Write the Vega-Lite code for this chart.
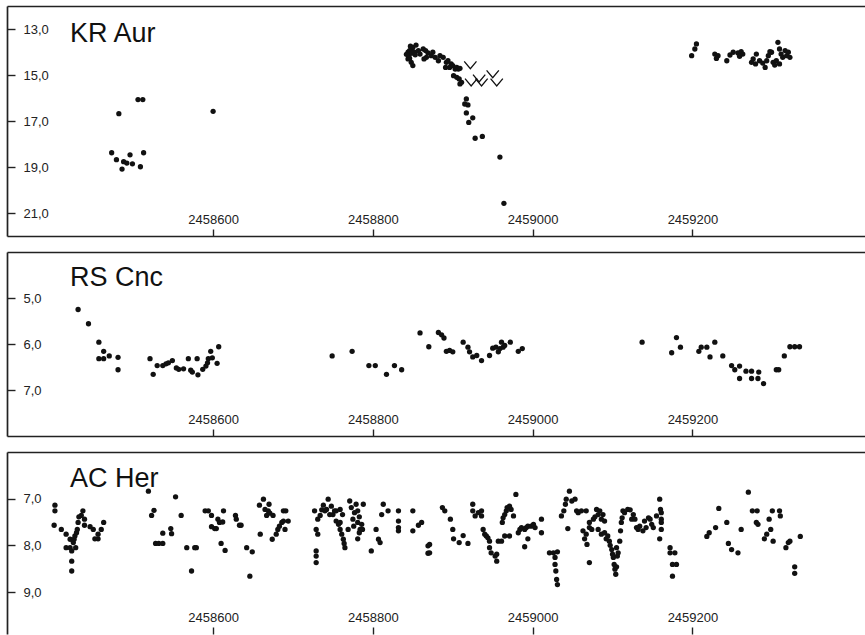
{
  "$schema": "https://vega.github.io/schema/vega-lite/v6.json",
  "padding": {"left": 6, "top": 6, "right": 0, "bottom": 0},
  "spacing": 16,
  "bounds": "flush",
  "config": {
    "view": {"stroke": null},
    "font": "Liberation Sans",
    "axis": {"domainColor": "#222", "domainWidth": 1.7, "tickColor": "#222", "tickWidth": 1.4, "labelFont": "Liberation Sans", "labelFontSize": 13, "labelColor": "#222", "title": null},
    "title": {"font": "Liberation Sans", "fontSize": 27, "fontWeight": "normal", "color": "#111", "anchor": "start", "frame": "group", "baseline": "alphabetic", "dx": 63, "offset": -40}
  },
  "datasets": {
    "kr": [
      {"jd":2458473,"mag":18.38},{"jd":2458479,"mag":18.68},{"jd":2458482,"mag":16.68},{"jd":2458486,"mag":19.09},{"jd":2458488,"mag":18.77},{"jd":2458492,"mag":18.83},{"jd":2458496,"mag":18.47},{"jd":2458499,"mag":18.86},{"jd":2458506,"mag":16.07},{"jd":2458512,"mag":16.07},{"jd":2458509,"mag":18.99},{"jd":2458513,"mag":18.38},{"jd":2458600,"mag":16.58},
      {"jd":2458844,"mag":14.01},{"jd":2458846,"mag":13.94},{"jd":2458848,"mag":13.87},{"jd":2458850,"mag":13.80},{"jd":2458854,"mag":13.70},{"jd":2458852,"mag":14.01},{"jd":2458846,"mag":14.28},{"jd":2458844,"mag":14.30},{"jd":2458848,"mag":14.45},{"jd":2458850,"mag":14.59},{"jd":2458842,"mag":14.10},{"jd":2458845,"mag":14.15},{"jd":2458849,"mag":14.05},{"jd":2458853,"mag":14.12},{"jd":2458847,"mag":13.75},
      {"jd":2458857,"mag":13.94},{"jd":2458859,"mag":14.09},{"jd":2458863,"mag":13.87},{"jd":2458866,"mag":13.94},{"jd":2458867,"mag":14.23},{"jd":2458864,"mag":14.30},{"jd":2458869,"mag":14.04},{"jd":2458873,"mag":14.16},{"jd":2458875,"mag":14.01},{"jd":2458878,"mag":14.23},{"jd":2458882,"mag":14.38},{"jd":2458884,"mag":14.16},{"jd":2458888,"mag":14.23},{"jd":2458892,"mag":14.45},{"jd":2458894,"mag":14.38},{"jd":2458898,"mag":14.52},{"jd":2458891,"mag":14.67},{"jd":2458896,"mag":14.67},{"jd":2458900,"mag":14.59},{"jd":2458903,"mag":14.74},{"jd":2458905,"mag":14.67},{"jd":2458907,"mag":14.74},{"jd":2458909,"mag":14.71},{"jd":2458901,"mag":15.03},{"jd":2458905,"mag":15.10},{"jd":2458908,"mag":15.17},{"jd":2458911,"mag":15.32},{"jd":2458909,"mag":15.39},
      {"jd":2458917,"mag":16.04},{"jd":2458915,"mag":16.26},{"jd":2458919,"mag":16.30},{"jd":2458917,"mag":16.65},{"jd":2458925,"mag":16.86},{"jd":2458920,"mag":17.06},{"jd":2458928,"mag":17.75},{"jd":2458937,"mag":17.67},{"jd":2458959,"mag":18.57},{"jd":2458964,"mag":20.58},
      {"jd":2459205,"mag":13.65},{"jd":2459203,"mag":13.87},{"jd":2459199,"mag":14.16},{"jd":2459228,"mag":14.09},{"jd":2459232,"mag":14.16},{"jd":2459230,"mag":14.28},{"jd":2459243,"mag":14.38},{"jd":2459247,"mag":14.13},{"jd":2459251,"mag":14.01},{"jd":2459257,"mag":14.04},{"jd":2459261,"mag":13.99},{"jd":2459263,"mag":14.09},{"jd":2459259,"mag":14.19},{"jd":2459274,"mag":14.45},{"jd":2459276,"mag":14.30},{"jd":2459280,"mag":14.09},{"jd":2459279,"mag":14.52},{"jd":2459284,"mag":14.38},{"jd":2459288,"mag":14.48},{"jd":2459291,"mag":14.67},{"jd":2459293,"mag":14.38},{"jd":2459295,"mag":14.16},{"jd":2459299,"mag":14.01},{"jd":2459301,"mag":14.45},{"jd":2459305,"mag":14.38},{"jd":2459307,"mag":13.58},{"jd":2459309,"mag":13.87},{"jd":2459311,"mag":14.09},{"jd":2459313,"mag":14.23},{"jd":2459316,"mag":13.94},{"jd":2459318,"mag":14.16},{"jd":2459320,"mag":14.01},{"jd":2459322,"mag":14.23},{"jd":2459309,"mag":14.52},{"jd":2459303,"mag":14.57},{"jd":2459297,"mag":13.99}
    ],
    "krlim": [
      {"jd":2458922,"mag":14.57},{"jd":2458933,"mag":15.14},{"jd":2458923,"mag":15.32},{"jd":2458936,"mag":15.32},{"jd":2458950,"mag":14.96},{"jd":2458955,"mag":15.32}
    ],
    "rs": [
      {"jd":2458431,"mag":5.25},{"jd":2458444,"mag":5.56},{"jd":2458457,"mag":5.96},{"jd":2458457,"mag":6.32},{"jd":2458463,"mag":6.32},{"jd":2458463,"mag":6.16},{"jd":2458470,"mag":6.26},{"jd":2458481,"mag":6.29},{"jd":2458481,"mag":6.56},
      {"jd":2458521,"mag":6.32},{"jd":2458525,"mag":6.66},{"jd":2458530,"mag":6.47},{"jd":2458537,"mag":6.47},{"jd":2458541,"mag":6.43},{"jd":2458544,"mag":6.41},{"jd":2458549,"mag":6.36},{"jd":2458554,"mag":6.52},{"jd":2458557,"mag":6.55},{"jd":2458563,"mag":6.54},{"jd":2458569,"mag":6.32},{"jd":2458572,"mag":6.57},{"jd":2458574,"mag":6.61},{"jd":2458580,"mag":6.32},{"jd":2458581,"mag":6.67},{"jd":2458587,"mag":6.55},{"jd":2458591,"mag":6.48},{"jd":2458593,"mag":6.41},{"jd":2458594,"mag":6.32},{"jd":2458597,"mag":6.16},{"jd":2458599,"mag":6.30},{"jd":2458605,"mag":6.42},{"jd":2458607,"mag":6.06},
      {"jd":2458749,"mag":6.26},{"jd":2458774,"mag":6.16},{"jd":2458795,"mag":6.47},{"jd":2458803,"mag":6.47},{"jd":2458817,"mag":6.66},{"jd":2458827,"mag":6.47},{"jd":2458836,"mag":6.56},{"jd":2458859,"mag":5.76},{"jd":2458870,"mag":6.06},
      {"jd":2458882,"mag":5.75},{"jd":2458886,"mag":5.80},{"jd":2458889,"mag":5.87},{"jd":2458892,"mag":6.16},{"jd":2458896,"mag":6.14},{"jd":2458900,"mag":6.17},{"jd":2458913,"mag":5.96},{"jd":2458919,"mag":6.07},{"jd":2458921,"mag":6.17},{"jd":2458925,"mag":6.28},{"jd":2458930,"mag":6.25},{"jd":2458936,"mag":6.36},{"jd":2458946,"mag":6.25},{"jd":2458950,"mag":6.09},{"jd":2458954,"mag":6.07},{"jd":2458957,"mag":6.17},{"jd":2458959,"mag":6.10},{"jd":2458961,"mag":5.96},{"jd":2458963,"mag":6.07},{"jd":2458965,"mag":6.03},{"jd":2458972,"mag":5.96},{"jd":2458982,"mag":6.16},{"jd":2458987,"mag":6.10},
      {"jd":2459137,"mag":5.96},{"jd":2459174,"mag":6.19},{"jd":2459180,"mag":5.86},{"jd":2459185,"mag":6.07},{"jd":2459208,"mag":6.16},{"jd":2459211,"mag":6.07},{"jd":2459218,"mag":6.07},{"jd":2459222,"mag":6.28},{"jd":2459228,"mag":5.96},{"jd":2459238,"mag":6.26},{"jd":2459249,"mag":6.47},{"jd":2459253,"mag":6.56},{"jd":2459259,"mag":6.48},{"jd":2459259,"mag":6.75},{"jd":2459267,"mag":6.59},{"jd":2459274,"mag":6.59},{"jd":2459274,"mag":6.75},{"jd":2459282,"mag":6.75},{"jd":2459283,"mag":6.61},{"jd":2459289,"mag":6.86},{"jd":2459305,"mag":6.56},{"jd":2459308,"mag":6.56},{"jd":2459315,"mag":6.26},{"jd":2459322,"mag":6.06},{"jd":2459328,"mag":6.06},{"jd":2459334,"mag":6.06}
    ],
    "ac": [
      {"jd":2458402,"mag":7.14},{"jd":2458402,"mag":7.26},{"jd":2458401,"mag":7.57},{"jd":2458410,"mag":7.66},{"jd":2458416,"mag":7.76},{"jd":2458416,"mag":8.05},{"jd":2458421,"mag":7.87},{"jd":2458421,"mag":8.05},{"jd":2458423,"mag":8.12},{"jd":2458423,"mag":8.55},{"jd":2458423,"mag":8.34},{"jd":2458425,"mag":7.94},{"jd":2458426,"mag":7.87},{"jd":2458427,"mag":7.80},{"jd":2458428,"mag":8.05},{"jd":2458429,"mag":7.73},{"jd":2458430,"mag":7.66},{"jd":2458431,"mag":7.51},{"jd":2458432,"mag":7.39},{"jd":2458435,"mag":7.36},{"jd":2458437,"mag":7.26},{"jd":2458439,"mag":7.44},{"jd":2458439,"mag":7.57},{"jd":2458446,"mag":7.60},{"jd":2458450,"mag":7.66},{"jd":2458452,"mag":7.86},{"jd":2458456,"mag":7.86},{"jd":2458456,"mag":7.76},{"jd":2458460,"mag":7.66},{"jd":2458463,"mag":7.51},
      {"jd":2458519,"mag":6.84},{"jd":2458523,"mag":7.36},{"jd":2458526,"mag":7.25},{"jd":2458528,"mag":7.96},{"jd":2458532,"mag":7.96},{"jd":2458537,"mag":7.96},{"jd":2458537,"mag":7.74},{"jd":2458547,"mag":7.64},{"jd":2458548,"mag":7.75},{"jd":2458553,"mag":6.96},{"jd":2458560,"mag":7.36},{"jd":2458567,"mag":8.05},{"jd":2458573,"mag":8.55},{"jd":2458577,"mag":8.05},{"jd":2458579,"mag":8.05},
      {"jd":2458590,"mag":7.26},{"jd":2458594,"mag":7.26},{"jd":2458598,"mag":7.36},{"jd":2458598,"mag":7.60},{"jd":2458602,"mag":7.64},{"jd":2458604,"mag":7.64},{"jd":2458606,"mag":7.44},{"jd":2458608,"mag":7.51},{"jd":2458612,"mag":7.50},{"jd":2458613,"mag":7.26},{"jd":2458610,"mag":7.96},{"jd":2458615,"mag":8.11},{"jd":2458628,"mag":7.36},{"jd":2458629,"mag":7.44},{"jd":2458633,"mag":7.57},{"jd":2458635,"mag":7.57},{"jd":2458642,"mag":8.05},{"jd":2458646,"mag":8.66},{"jd":2458649,"mag":8.14},{"jd":2458659,"mag":7.76},{"jd":2458658,"mag":7.14},{"jd":2458663,"mag":7.01},{"jd":2458665,"mag":7.23},{"jd":2458667,"mag":7.36},{"jd":2458669,"mag":7.26},{"jd":2458671,"mag":7.31},{"jd":2458675,"mag":7.36},{"jd":2458670,"mag":7.12},{"jd":2458674,"mag":7.87},{"jd":2458679,"mag":7.76},{"jd":2458681,"mag":7.66},{"jd":2458683,"mag":7.59},{"jd":2458686,"mag":7.51},{"jd":2458688,"mag":7.48},{"jd":2458688,"mag":7.26},{"jd":2458690,"mag":7.66},{"jd":2458691,"mag":7.26},{"jd":2458694,"mag":7.48},
      {"jd":2458727,"mag":7.26},{"jd":2458729,"mag":7.66},{"jd":2458731,"mag":7.76},{"jd":2458729,"mag":8.12},{"jd":2458729,"mag":8.23},{"jd":2458729,"mag":8.37},{"jd":2458731,"mag":7.44},{"jd":2458734,"mag":7.36},{"jd":2458736,"mag":7.24},{"jd":2458738,"mag":7.14},{"jd":2458740,"mag":7.26},{"jd":2458742,"mag":7.23},{"jd":2458744,"mag":7.01},{"jd":2458746,"mag":7.34},{"jd":2458748,"mag":7.16},{"jd":2458750,"mag":7.34},{"jd":2458752,"mag":7.26},{"jd":2458754,"mag":7.26},{"jd":2458754,"mag":7.48},{"jd":2458757,"mag":7.55},{"jd":2458759,"mag":7.51},{"jd":2458759,"mag":7.66},{"jd":2458761,"mag":7.76},{"jd":2458763,"mag":7.87},{"jd":2458764,"mag":7.96},{"jd":2458765,"mag":8.05},{"jd":2458759,"mag":7.23},{"jd":2458762,"mag":7.34},{"jd":2458769,"mag":7.66},{"jd":2458771,"mag":7.05},{"jd":2458773,"mag":7.19},{"jd":2458775,"mag":7.44},{"jd":2458776,"mag":7.59},{"jd":2458777,"mag":7.30},{"jd":2458779,"mag":7.12},{"jd":2458781,"mag":7.26},{"jd":2458781,"mag":7.51},{"jd":2458783,"mag":7.39},{"jd":2458784,"mag":7.66},{"jd":2458786,"mag":7.55},{"jd":2458788,"mag":7.12},{"jd":2458781,"mag":7.86},{"jd":2458783,"mag":7.73},{"jd":2458787,"mag":7.66},{"jd":2458798,"mag":8.12},{"jd":2458804,"mag":7.66},{"jd":2458807,"mag":7.87},{"jd":2458809,"mag":7.94},{"jd":2458811,"mag":7.34},{"jd":2458813,"mag":7.12},{"jd":2458819,"mag":7.26},{"jd":2458832,"mag":7.26},{"jd":2458832,"mag":7.48},{"jd":2458832,"mag":7.62},{"jd":2458832,"mag":7.69},{"jd":2458850,"mag":7.26},{"jd":2458850,"mag":7.69},{"jd":2458857,"mag":7.57},{"jd":2458861,"mag":7.51},{"jd":2458869,"mag":8.01},{"jd":2458869,"mag":8.17},
      {"jd":2458871,"mag":7.98},{"jd":2458871,"mag":8.16},{"jd":2458887,"mag":7.19},{"jd":2458890,"mag":7.26},{"jd":2458897,"mag":7.44},{"jd":2458900,"mag":7.66},{"jd":2458901,"mag":7.86},{"jd":2458908,"mag":7.94},{"jd":2458913,"mag":7.79},{"jd":2458919,"mag":7.96},{"jd":2458925,"mag":7.12},{"jd":2458925,"mag":7.26},{"jd":2458928,"mag":7.37},{"jd":2458932,"mag":7.30},{"jd":2458936,"mag":7.26},{"jd":2458936,"mag":7.37},{"jd":2458938,"mag":7.66},{"jd":2458940,"mag":7.76},{"jd":2458942,"mag":7.80},{"jd":2458944,"mag":7.84},{"jd":2458946,"mag":7.91},{"jd":2458946,"mag":8.05},{"jd":2458948,"mag":8.16},{"jd":2458953,"mag":8.23},{"jd":2458955,"mag":8.34},{"jd":2458955,"mag":8.19},{"jd":2458957,"mag":7.91},{"jd":2458961,"mag":7.91},{"jd":2458962,"mag":7.51},{"jd":2458963,"mag":7.41},{"jd":2458965,"mag":7.34},{"jd":2458967,"mag":7.26},{"jd":2458968,"mag":7.19},{"jd":2458971,"mag":7.16},{"jd":2458973,"mag":7.23},{"jd":2458976,"mag":7.37},{"jd":2458979,"mag":6.91},{"jd":2458965,"mag":7.80},{"jd":2458971,"mag":7.80},{"jd":2458982,"mag":7.73},{"jd":2458984,"mag":7.66},{"jd":2458986,"mag":7.62},{"jd":2458990,"mag":7.66},{"jd":2458992,"mag":7.62},{"jd":2458994,"mag":7.59},{"jd":2458998,"mag":7.59},{"jd":2459001,"mag":7.55},{"jd":2459003,"mag":7.62},{"jd":2458990,"mag":8.03},{"jd":2458994,"mag":7.86},{"jd":2459011,"mag":7.44},{"jd":2459011,"mag":7.73},
      {"jd":2459021,"mag":8.16},{"jd":2459026,"mag":8.16},{"jd":2459028,"mag":8.26},{"jd":2459028,"mag":8.41},{"jd":2459029,"mag":8.55},{"jd":2459030,"mag":8.73},{"jd":2459031,"mag":8.84},{"jd":2459031,"mag":8.14},{"jd":2459036,"mag":7.37},{"jd":2459039,"mag":7.26},{"jd":2459041,"mag":7.12},{"jd":2459042,"mag":7.01},{"jd":2459046,"mag":6.84},{"jd":2459049,"mag":7.05},{"jd":2459053,"mag":7.01},{"jd":2459055,"mag":7.26},{"jd":2459057,"mag":7.30},{"jd":2459061,"mag":7.26},{"jd":2459067,"mag":7.26},{"jd":2459044,"mag":7.64},{"jd":2459063,"mag":7.69},{"jd":2459065,"mag":7.86},{"jd":2459067,"mag":7.76},{"jd":2459068,"mag":7.98},{"jd":2459071,"mag":7.62},{"jd":2459071,"mag":7.51},{"jd":2459074,"mag":7.66},{"jd":2459076,"mag":7.44},{"jd":2459078,"mag":7.39},{"jd":2459080,"mag":7.23},{"jd":2459082,"mag":7.34},{"jd":2459084,"mag":7.26},{"jd":2459086,"mag":7.44},{"jd":2459088,"mag":7.34},{"jd":2459090,"mag":7.48},{"jd":2459071,"mag":8.37},{"jd":2459082,"mag":7.66},{"jd":2459086,"mag":7.76},{"jd":2459090,"mag":7.73},{"jd":2459092,"mag":7.86},{"jd":2459094,"mag":7.80},{"jd":2459096,"mag":7.91},{"jd":2459097,"mag":8.00},{"jd":2459099,"mag":8.09},{"jd":2459100,"mag":8.19},{"jd":2459101,"mag":8.26},{"jd":2459102,"mag":8.41},{"jd":2459103,"mag":8.51},{"jd":2459104,"mag":8.62},{"jd":2459105,"mag":8.46},{"jd":2459106,"mag":8.23},{"jd":2459107,"mag":8.16},{"jd":2459105,"mag":8.05},
      {"jd":2459109,"mag":7.91},{"jd":2459110,"mag":7.69},{"jd":2459111,"mag":7.51},{"jd":2459112,"mag":7.41},{"jd":2459113,"mag":7.26},{"jd":2459115,"mag":7.30},{"jd":2459119,"mag":7.23},{"jd":2459122,"mag":7.24},{"jd":2459124,"mag":7.44},{"jd":2459126,"mag":7.34},{"jd":2459128,"mag":7.44},{"jd":2459130,"mag":7.62},{"jd":2459132,"mag":7.66},{"jd":2459134,"mag":7.59},{"jd":2459138,"mag":7.69},{"jd":2459140,"mag":7.48},{"jd":2459142,"mag":7.62},{"jd":2459145,"mag":7.41},{"jd":2459147,"mag":7.44},{"jd":2459149,"mag":7.55},{"jd":2459151,"mag":7.62},{"jd":2459155,"mag":7.37},{"jd":2459159,"mag":7.01},{"jd":2459160,"mag":7.23},{"jd":2459161,"mag":7.30},{"jd":2459161,"mag":7.44},{"jd":2459161,"mag":7.51},{"jd":2459161,"mag":7.66},{"jd":2459159,"mag":7.86},
      {"jd":2459172,"mag":8.05},{"jd":2459172,"mag":8.16},{"jd":2459178,"mag":8.16},{"jd":2459175,"mag":8.41},{"jd":2459180,"mag":8.41},{"jd":2459175,"mag":8.66},
      {"jd":2459218,"mag":7.81},{"jd":2459221,"mag":7.73},{"jd":2459229,"mag":7.62},{"jd":2459233,"mag":7.21},{"jd":2459243,"mag":7.51},{"jd":2459245,"mag":7.96},{"jd":2459249,"mag":8.09},{"jd":2459257,"mag":8.16},{"jd":2459261,"mag":7.66},{"jd":2459270,"mag":6.86},{"jd":2459275,"mag":7.26},{"jd":2459281,"mag":7.26},{"jd":2459280,"mag":7.51},{"jd":2459282,"mag":7.55},{"jd":2459290,"mag":7.86},{"jd":2459293,"mag":7.76},{"jd":2459296,"mag":7.44},{"jd":2459298,"mag":7.66},{"jd":2459300,"mag":7.26},{"jd":2459301,"mag":7.91},{"jd":2459309,"mag":7.26},{"jd":2459310,"mag":7.37},{"jd":2459317,"mag":8.05},{"jd":2459320,"mag":7.94},{"jd":2459322,"mag":7.91},{"jd":2459328,"mag":8.46},{"jd":2459328,"mag":8.60},{"jd":2459335,"mag":7.81}
    ]
  },
  "vconcat": [
    {
      "width": 858, "height": 230,
      "title": {"text": "KR Aur", "offset": -42},
      "layer": [
        {
          "data": {"name": "kr"},
          "mark": {"type": "circle", "size": 28, "color": "#111", "opacity": 1},
          "encoding": {
            "x": {"field": "jd", "type": "quantitative", "scale": {"domain": [2458342, 2459416], "nice": false, "zero": false},
              "axis": {"values": [2458600, 2458800, 2459000, 2459200], "format": "d", "tickSize": -7, "labelPadding": -10, "labelBaseline": "middle", "grid": false, "labelFlush": false, "labelOverlap": false}},
            "y": {"field": "mag", "type": "quantitative", "scale": {"domain": [12, 22], "reverse": true, "nice": false, "zero": false},
              "axis": {"values": [12, 13, 15, 17, 19, 21], "tickSize": -8, "labelAlign": "left", "labelPadding": -8, "labelBaseline": "middle", "grid": true, "gridColor": "#222", "gridWidth": 1.7,
                "gridOpacity": {"condition": {"test": "datum.value == 12", "value": 1}, "value": 0},
                "tickOpacity": {"condition": {"test": "datum.value == 12", "value": 0}, "value": 1},
                "labelFontSize": {"condition": {"test": "datum.value == 12", "value": 0}, "value": 13},
                "labelExpr": "datum.value == 12 ? '' : replace(format(datum.value, '.1f'), '.', ',')", "labelOverlap": false}}
          }
        },
        {
          "data": {"name": "krlim"},
          "mark": {"type": "point", "shape": "M-1,-0.6L0,0.6L1,-0.6", "size": 150, "filled": false, "stroke": "#111", "strokeWidth": 1.3, "opacity": 1},
          "encoding": {
            "x": {"field": "jd", "type": "quantitative"},
            "y": {"field": "mag", "type": "quantitative"}
          }
        }
      ]
    },
    {
      "width": 858, "height": 184,
      "title": {"text": "RS Cnc", "offset": -40},
      "data": {"name": "rs"},
      "mark": {"type": "circle", "size": 28, "color": "#111", "opacity": 1},
      "encoding": {
        "x": {"field": "jd", "type": "quantitative", "scale": {"domain": [2458342, 2459416], "nice": false, "zero": false},
          "axis": {"values": [2458600, 2458800, 2459000, 2459200], "format": "d", "tickSize": -7, "labelPadding": -10, "labelBaseline": "middle", "grid": false, "labelFlush": false, "labelOverlap": false}},
        "y": {"field": "mag", "type": "quantitative", "scale": {"domain": [4, 8], "reverse": true, "nice": false, "zero": false},
          "axis": {"values": [4, 5, 6, 7], "tickSize": -8, "labelAlign": "left", "labelPadding": -8, "labelBaseline": "middle", "grid": true, "gridColor": "#222", "gridWidth": 1.7,
            "gridOpacity": {"condition": {"test": "datum.value == 4", "value": 1}, "value": 0},
            "tickOpacity": {"condition": {"test": "datum.value == 4", "value": 0}, "value": 1},
            "labelFontSize": {"condition": {"test": "datum.value == 4", "value": 0}, "value": 13},
            "labelExpr": "datum.value == 4 ? '' : replace(format(datum.value, '.1f'), '.', ',')", "labelOverlap": false}}
      }
    },
    {
      "width": 858, "height": 182,
      "title": {"text": "AC Her", "offset": -41},
      "data": {"name": "ac"},
      "mark": {"type": "circle", "size": 28, "color": "#111", "opacity": 1},
      "encoding": {
        "x": {"field": "jd", "type": "quantitative", "scale": {"domain": [2458342, 2459416], "nice": false, "zero": false},
          "axis": {"values": [2458600, 2458800, 2459000, 2459200], "format": "d", "tickSize": -7, "labelPadding": -10, "labelBaseline": "middle", "grid": false, "domain": false, "labelFlush": false, "labelOverlap": false}},
        "y": {"field": "mag", "type": "quantitative", "scale": {"domain": [6, 9.9], "reverse": true, "nice": false, "zero": false},
          "axis": {"values": [6, 7, 8, 9], "tickSize": -8, "labelAlign": "left", "labelPadding": -8, "labelBaseline": "middle", "grid": true, "gridColor": "#222", "gridWidth": 1.7,
            "gridOpacity": {"condition": {"test": "datum.value == 6", "value": 1}, "value": 0},
            "tickOpacity": {"condition": {"test": "datum.value == 6", "value": 0}, "value": 1},
            "labelFontSize": {"condition": {"test": "datum.value == 6", "value": 0}, "value": 13},
            "labelExpr": "datum.value == 6 ? '' : replace(format(datum.value, '.1f'), '.', ',')", "labelOverlap": false}}
      }
    }
  ]
}
